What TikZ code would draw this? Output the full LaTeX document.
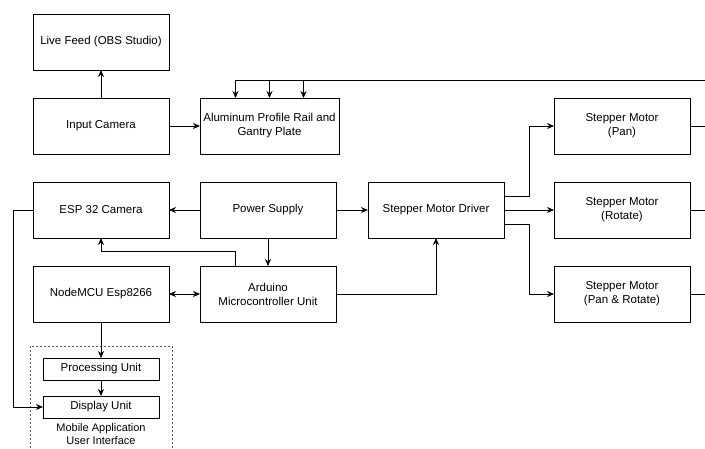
\documentclass[tikz,border=0pt]{standalone}
\usepackage{fontspec}
\setmainfont{Liberation Sans}
\usetikzlibrary{arrows.meta,positioning}

\begin{document}
\begin{tikzpicture}[
  x=1pt,y=-1pt,
  >={Stealth[length=7pt,width=6pt]},
  node distance=28pt and 31pt,
  block/.style={draw,line width=0.8pt,outer sep=0pt,minimum width=136pt,minimum height=56pt,
    align=center,font=\fontsize{11.5}{14}\selectfont},
  unit/.style={draw,line width=0.8pt,outer sep=0pt,minimum width=116pt,minimum height=22pt,
    font=\fontsize{11.5}{14}\selectfont},
  flow/.style={->,line width=0.8pt},
  line/.style={line width=0.8pt}
]
  \clip (0,0) rectangle (705,448);

  \node[block] (camera) at (101,126) {Input Camera};
  \node[block,above=of camera] (feed) {Live Feed (OBS Studio)};
  \node[block,right=of camera] (rail) {Aluminum Profile Rail and\\Gantry Plate};
  \node[block,below=of camera] (esp) {ESP 32 Camera};
  \node[block,right=of esp] (power) {Power Supply};
  \node[block,right=32pt of power] (driver) {Stepper Motor Driver};
  \node[block,right=50pt of driver] (rotate) {Stepper Motor\\(Rotate)};
  \node[block,above=of rotate] (pan) {Stepper Motor\\(Pan)};
  \node[block,below=of rotate] (panrotate) {Stepper Motor\\(Pan \& Rotate)};
  \node[block,below=of esp] (nodemcu) {NodeMCU Esp8266};
  \node[block,right=of nodemcu] (arduino) {Arduino\\Microcontroller Unit};

  \node[unit] (processing) at (101,369) {Processing Unit};
  \node[unit,below=16pt of processing] (display) {Display Unit};
  \node[below=4pt of display,align=center,inner sep=1pt,
    font=\fontsize{11}{13}\selectfont] (app) {Mobile Application\\User Interface};
  \draw[gray!70!black,line width=0.8pt,dash pattern=on 2pt off 2pt] (30,346) rectangle (172,470);

  \coordinate (edge) at (710,80);
  \coordinate (railleft) at ([xshift=-34pt]rail.north);
  \coordinate (railright) at ([xshift=34pt]rail.north);

  \draw[flow] (camera) -- (feed);
  \draw[flow] (camera) -- (rail);
  \draw[flow] (power) -- (esp);
  \draw[flow] (power) -- (driver);
  \draw[flow] (power) -- (arduino);
  \draw[<->,line width=0.8pt] (nodemcu) -- (arduino);
  \draw[flow] (arduino.east) -| (driver.south);
  \draw[flow] ([xshift=-33pt]arduino.north) -- ++(0,-15) -| (esp.south);
  \draw[flow] ([yshift=14pt]driver.east) -- ++(25,0) |- (pan.west);
  \draw[flow] (driver) -- (rotate);
  \draw[flow] ([yshift=-14pt]driver.east) -- ++(25,0) |- (panrotate.west);
  \draw[flow] (nodemcu) -- (processing);
  \draw[flow] (processing) -- (display);
  \draw[flow] (esp.west) -- ++(-20,0) |- (display.west);

  \draw[line] (pan.east) -- (pan.east -| edge);
  \draw[line] (rotate.east) -- (rotate.east -| edge);
  \draw[line] (panrotate.east) -- (panrotate.east -| edge);
  \draw[flow] (edge) -| (railleft);
  \draw[flow] (edge -| rail.north) -- (rail.north);
  \draw[flow] (edge -| railright) -- (railright);
\end{tikzpicture}
\end{document}
